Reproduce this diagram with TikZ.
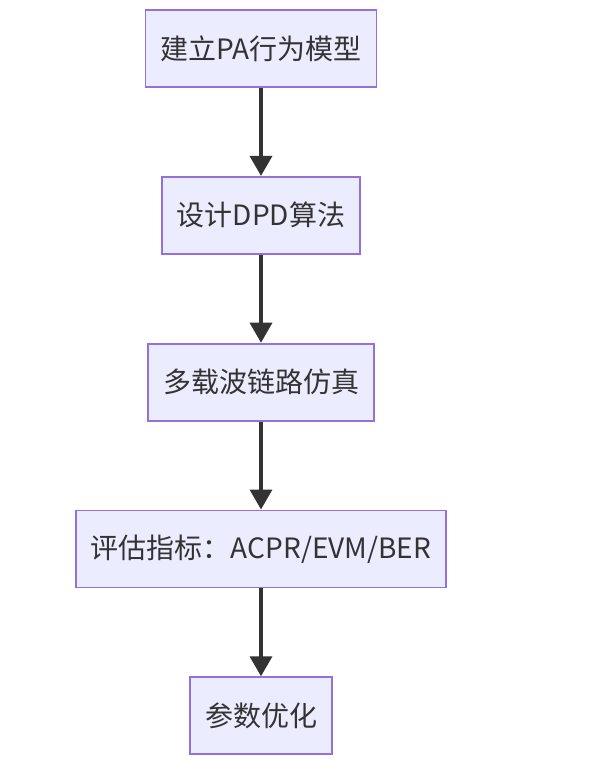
\documentclass[tikz,border=0pt]{standalone}
\usepackage{fontspec}
\setmainfont{Noto Sans CJK SC}
\usetikzlibrary{arrows.meta,positioning}
\definecolor{boxfill}{HTML}{ECECFF}
\definecolor{boxline}{HTML}{9370DB}
\definecolor{arrline}{HTML}{333333}

\begin{document}
\begin{tikzpicture}[
  node distance=88pt,
  st/.style={draw=boxline, fill=boxfill, line width=1.8pt, minimum height=77pt, inner xsep=15pt, inner ysep=0pt,
    text=arrline, font=\fontsize{28}{34}\selectfont},
  arr/.style={-{Triangle[length=20pt,width=22pt]}, line width=3.6pt, draw=arrline}]
\useasboundingbox (0,0) rectangle (590pt,-780pt);
\node[st] (pa)  at (261pt,-48.5pt) {建立PA行为模型};
\node[st, below=of pa]  (dpd) {设计DPD算法};
\node[st, below=of dpd] (sim) {多载波链路仿真};
\node[st, below=of sim] (eva) {评估指标：ACPR/EVM/BER};
\node[st, below=of eva] (opt) {参数优化};
\draw[arr] (pa) -- (dpd);
\draw[arr] (dpd) -- (sim);
\draw[arr] (sim) -- (eva);
\draw[arr] (eva) -- (opt);
\end{tikzpicture}
\end{document}
